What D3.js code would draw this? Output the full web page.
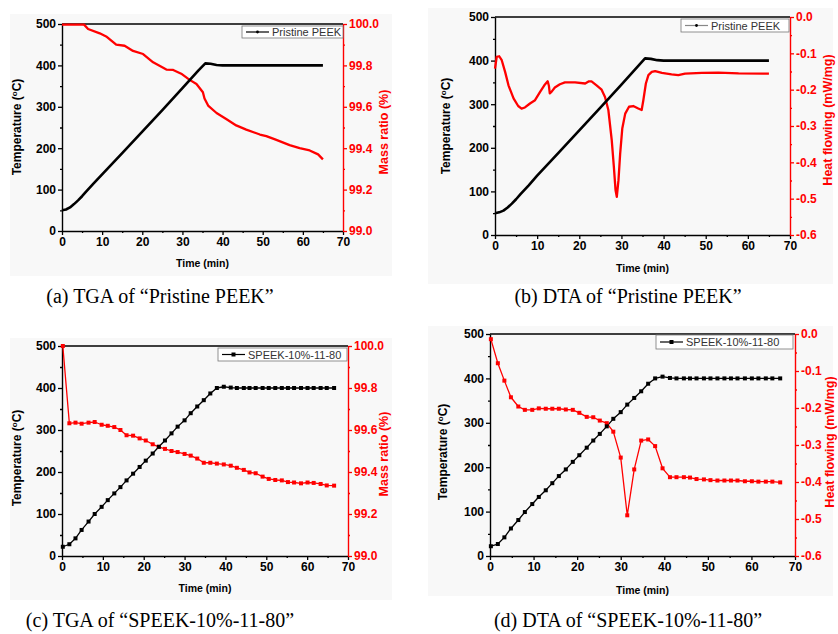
<!DOCTYPE html>
<html><head><meta charset="utf-8">
<script src="https://cdn.jsdelivr.net/npm/d3@7"></script>
<style>body{margin:0;background:#fff}svg{display:block}</style>
</head><body>
<svg id="c" width="838" height="634"></svg>
<script>
// ---------- DATA ----------
const xTicks = [0,10,20,30,40,50,60,70];
const tempTicks = [0,100,200,300,400,500];
const massTicks = [99.0,99.2,99.4,99.6,99.8,100.0];
const heatTicks = [0.0,-0.1,-0.2,-0.3,-0.4,-0.5,-0.6];

// (a) TGA Pristine PEEK
const aTempTime = [0,1,2,3,4,5,6,8,10,15,20,25,30,34,35.7,37,38.5,40,50,65];
const aTemp     = [50,52,57,65,74,84,95,116,137,188,240,292,345,388,405,404,401,400,400,400];
const aMassTime = [0,5.5,6.5,9.4,11,13.5,15.6,17.7,20.2,22.7,26,27.7,29.7,31.8,33.5,35.1,35.5,36.4,38.5,41,43.4,45.9,49.3,50.9,53.4,56.7,59.2,61.7,63.8,65];
const aMass     = [99.997,99.997,99.976,99.955,99.94,99.90,99.895,99.87,99.855,99.815,99.78,99.778,99.76,99.73,99.71,99.67,99.64,99.606,99.57,99.54,99.51,99.49,99.466,99.458,99.44,99.415,99.40,99.389,99.37,99.346];

// (b) DTA Pristine PEEK
const bTempTime = [0,1,2,3,4,5,6,8,10,15,20,25,30,34,35.6,37,38.5,40,50,65];
const bTemp     = [50,52,56,63,72,82,93,114,136,188,240,292,345,388,405,404,401,400,400,400];
const bHeatTime = [0,0.4,1.0,1.6,2.4,3.2,4.4,5.5,6.3,7.1,8.3,9.5,10.7,11.7,12.5,12.8,13.0,13.4,14.2,15.4,16.6,19,21.4,22.3,22.9,24.1,25.3,26.1,26.9,27.7,28.2,28.6,28.9,29.3,29.7,30.2,30.9,31.8,32.8,34,34.8,35.2,35.8,36.4,37.2,38,39.6,41.9,43.5,45.1,49.1,53,57.8,65];
const bHeat     = [-0.142,-0.11,-0.108,-0.119,-0.151,-0.188,-0.224,-0.245,-0.252,-0.249,-0.238,-0.229,-0.206,-0.188,-0.177,-0.19,-0.21,-0.206,-0.194,-0.185,-0.18,-0.18,-0.183,-0.177,-0.177,-0.188,-0.2,-0.22,-0.256,-0.339,-0.412,-0.476,-0.495,-0.449,-0.376,-0.307,-0.266,-0.247,-0.245,-0.252,-0.256,-0.229,-0.183,-0.16,-0.151,-0.149,-0.154,-0.158,-0.16,-0.156,-0.154,-0.153,-0.155,-0.156];

// (c)/(d) SPEEK-10%-11-80 sample times
const sTime = [0.2,1.8,3.3,4.8,6.5,8.0,9.7,11.2,12.8,14.3,15.8,17.4,19.0,20.5,22.2,23.7,25.2,26.8,28.3,30.0,31.5,33.1,34.7,36.3,37.9,39.6,41.3,42.8,44.5,45.9,47.4,49.1,50.6,52.2,53.8,55.3,56.8,58.5,60.1,61.6,63.3,64.8,66.6];
const cTemp = [22,28,42,62,82,100,117,133,149,164,180,196,212,227,244,260,275,292,308,323,340,356,371,387,400,403,401,400,400,400,400,400,400,400,400,400,400,400,400,400,400,400,400];
const cMass = [100.0,99.632,99.635,99.63,99.635,99.638,99.625,99.62,99.614,99.6,99.575,99.573,99.56,99.55,99.532,99.52,99.51,99.50,99.495,99.486,99.478,99.464,99.444,99.444,99.44,99.436,99.43,99.42,99.41,99.398,99.394,99.378,99.367,99.362,99.36,99.352,99.35,99.346,99.35,99.348,99.343,99.336,99.335];
const dTemp = [22,27,42,62,81,99,117,133,148,164,180,195,212,227,244,260,275,292,309,324,341,356,371,388,400,404,401,400,400,400,400,400,400,400,400,400,400,400,400,400,400,400,400];
const dHeat = [-0.014,-0.079,-0.126,-0.171,-0.196,-0.205,-0.205,-0.201,-0.202,-0.202,-0.202,-0.204,-0.205,-0.213,-0.224,-0.225,-0.234,-0.241,-0.264,-0.334,-0.49,-0.366,-0.288,-0.285,-0.303,-0.363,-0.387,-0.387,-0.387,-0.388,-0.392,-0.393,-0.395,-0.396,-0.396,-0.396,-0.396,-0.398,-0.398,-0.399,-0.399,-0.399,-0.401];

const captions = ["(a) TGA of \u201cPristine PEEK\u201d","(b) DTA of \u201cPristine PEEK\u201d","(c) TGA of \u201cSPEEK-10%-11-80\u201d","(d) DTA of \u201cSPEEK-10%-11-80\u201d"];
const legendNames = ["Pristine PEEK","Pristine PEEK","SPEEK-10%-11-80","SPEEK-10%-11-80"];

// ---------- DRAW ----------
const svg = d3.select("#c");
const RED = "#ff0000";
const SANS = "'Liberation Sans', Arial, sans-serif";

const panels = [
  {l:62,r:343,t:24,b:231, bg:[10,14,382,262], kind:"mass", tT:aTempTime, T:aTemp, tR:aMassTime, R:aMass, markers:false,
   leg:[242,26,101,12], lt:[21,127], rt:[388,132], xt:267, cap:[160,303], capi:0},
  {l:495,r:790,t:17,b:235, bg:[428,8,405,276], kind:"heat", tT:bTempTime, T:bTemp, tR:bHeatTime, R:bHeat, markers:false,
   leg:[681,19,108,13], lt:[450,126], rt:[832,120], xt:272, cap:[628,303], capi:1},
  {l:62,r:348,t:346,b:556, bg:[10,338,382,262], kind:"mass", tT:sTime, T:cTemp, tR:sTime, R:cMass, markers:true,
   leg:[218,348,129,13], lt:[21,458], rt:[388,454], xt:592, cap:[160,627], capi:2},
  {l:490,r:795,t:334,b:556, bg:[428,326,405,270], kind:"heat", tT:sTime, T:dTemp, tR:sTime, R:dHeat, markers:true,
   leg:[656,335,137,14], lt:[447,452], rt:[834,442], xt:594, cap:[628,627], capi:3}
];

panels.forEach(p => {
  const g = svg.append("g");
  g.append("rect").attr("x",p.bg[0]).attr("y",p.bg[1]).attr("width",p.bg[2]).attr("height",p.bg[3]).attr("fill","#f8f8f8");

  const x = d3.scaleLinear().domain([0,70]).range([p.l,p.r]);
  const yL = d3.scaleLinear().domain([0,500]).range([p.b,p.t]);
  const rdom = p.kind==="mass" ? [99,100] : [-0.6,0];
  const rticks = p.kind==="mass" ? massTicks : heatTicks;
  const yR = d3.scaleLinear().domain(rdom).range([p.b,p.t]);

  const minorX = [5,15,25,35,45,55,65];
  const minorL = [50,150,250,350,450];
  const minorR = p.kind==="mass" ? [99.1,99.3,99.5,99.7,99.9] : [-0.05,-0.15,-0.25,-0.35,-0.45,-0.55];

  function styleAxis(sel, color){
    sel.selectAll("path").attr("stroke",color).attr("stroke-width",1.4);
    sel.selectAll("line").attr("stroke",color).attr("stroke-width",1.3);
    sel.selectAll("text").attr("fill",color).attr("font-family",SANS).attr("font-weight","bold").attr("font-size","12px");
  }

  g.append("line").attr("x1",p.l).attr("x2",p.r).attr("y1",p.t).attr("y2",p.t).attr("stroke","#000").attr("stroke-width",1.4);

  const gx = g.append("g").attr("transform",`translate(0,${p.b})`)
    .call(d3.axisBottom(x).tickValues(xTicks).tickSize(4).tickSizeOuter(0).tickPadding(2).tickFormat(d3.format("d")));
  styleAxis(gx,"#000");
  const gxm = g.append("g").attr("transform",`translate(0,${p.b})`)
    .call(d3.axisBottom(x).tickValues(minorX).tickSize(2).tickSizeOuter(0).tickFormat(""));
  styleAxis(gxm,"#000"); gxm.select("path").remove();

  const gl = g.append("g").attr("transform",`translate(${p.l},0)`)
    .call(d3.axisLeft(yL).tickValues(tempTicks).tickSize(4).tickSizeOuter(0).tickPadding(2).tickFormat(d3.format("d")));
  styleAxis(gl,"#000");
  const glm = g.append("g").attr("transform",`translate(${p.l},0)`)
    .call(d3.axisLeft(yL).tickValues(minorL).tickSize(2).tickSizeOuter(0).tickFormat(""));
  styleAxis(glm,"#000"); glm.select("path").remove();

  const gr = g.append("g").attr("transform",`translate(${p.r},0)`)
    .call(d3.axisRight(yR).tickValues(rticks).tickSize(4).tickSizeOuter(0).tickPadding(2).tickFormat(d=>d3.format(".1f")(d).replace("\u2212","-")));
  styleAxis(gr,RED);
  const grm = g.append("g").attr("transform",`translate(${p.r},0)`)
    .call(d3.axisRight(yR).tickValues(minorR).tickSize(2).tickSizeOuter(0).tickFormat(""));
  styleAxis(grm,RED); grm.select("path").remove();

  const lineT = d3.line().x((d,i)=>x(p.tT[i])).y(d=>yL(d));
  const lineR = d3.line().x((d,i)=>x(p.tR[i])).y(d=>yR(d));
  g.append("path").attr("d",lineR(p.R)).attr("fill","none").attr("stroke",RED).attr("stroke-width",p.markers?1.3:2.3).attr("stroke-linejoin","round");
  g.append("path").attr("d",lineT(p.T)).attr("fill","none").attr("stroke","#000").attr("stroke-width",p.markers?1.3:2.6).attr("stroke-linejoin","round");
  if (p.markers){
    const s = 4;
    g.selectAll(null).data(p.R).enter().append("rect")
      .attr("x",(d,i)=>x(p.tR[i])-s/2).attr("y",d=>yR(d)-s/2).attr("width",s).attr("height",s).attr("fill",RED);
    g.selectAll(null).data(p.T).enter().append("rect")
      .attr("x",(d,i)=>x(p.tT[i])-s/2).attr("y",d=>yL(d)-s/2).attr("width",s).attr("height",s).attr("fill","#000");
  }

  const [lx,ly,lw,lh] = p.leg;
  g.append("rect").attr("x",lx).attr("y",ly).attr("width",lw).attr("height",lh).attr("fill","#fff").attr("stroke","#777").attr("stroke-width",0.8);
  const my = ly+lh/2;
  g.append("line").attr("x1",lx+4).attr("x2",lx+27).attr("y1",my).attr("y2",my).attr("stroke",p.capi===1?"#888":"#000").attr("stroke-width",1.2);
  if (p.markers) g.append("rect").attr("x",lx+15.5-2).attr("y",my-2).attr("width",4).attr("height",4).attr("fill","#000");
  else g.append("circle").attr("cx",lx+15.5).attr("cy",my).attr("r",1.4).attr("fill","#000");
  g.append("text").attr("x",lx+30).attr("y",my+4).attr("font-family",SANS).attr("font-size","11px").attr("fill","#333").text(legendNames[p.capi]);

  const tl = g.append("text").attr("transform",`translate(${p.lt[0]},${p.lt[1]}) rotate(-90)`)
    .attr("text-anchor","middle").attr("font-family",SANS).attr("font-weight","bold").attr("font-size","12px").attr("fill","#000");
  tl.append("tspan").text("Temperature (");
  tl.append("tspan").attr("baseline-shift","super").attr("font-size","8px").text("o");
  tl.append("tspan").text("C)");
  g.append("text").attr("transform",`translate(${p.rt[0]},${p.rt[1]}) rotate(-90)`)
    .attr("text-anchor","middle").attr("font-family",SANS).attr("font-weight","bold").attr("font-size","12.5px").attr("fill",RED)
    .text(p.kind==="mass" ? "Mass ratio (%)" : "Heat flowing (mW/mg)");
  g.append("text").attr("x",(p.l+p.r)/2).attr("y",p.xt).attr("text-anchor","middle")
    .attr("font-family",SANS).attr("font-weight","bold").attr("font-size","10.5px").attr("fill","#000").text("Time (min)");

  svg.append("text").attr("x",p.cap[0]).attr("y",p.cap[1]).attr("text-anchor","middle")
    .attr("font-family","'Liberation Serif','Times New Roman',serif").attr("font-size","20px").attr("fill","#000").text(captions[p.capi]);
});
</script>
</body></html>
